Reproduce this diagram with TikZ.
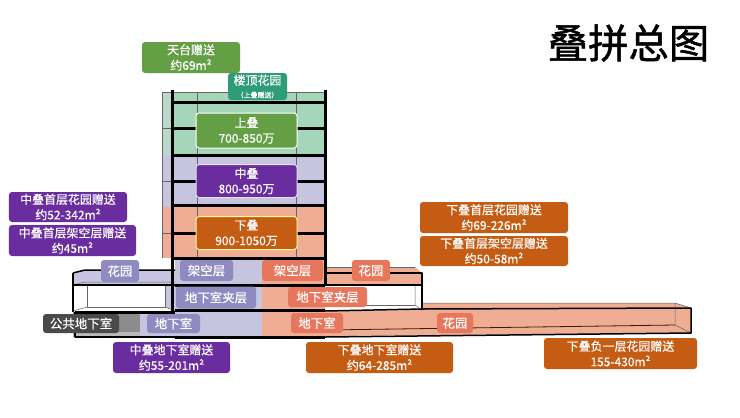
\documentclass[tikz,border=0pt]{standalone}
\usepackage{fontspec}
\setmainfont[FakeBold=0.4]{Noto Sans CJK SC}
\newfontfamily\titlefont[FakeBold=1.2]{Noto Sans CJK SC}
\definecolor{greenlight}{HTML}{A6D6BA}
\definecolor{greenside}{HTML}{B9D9CC}
\definecolor{greentag}{HTML}{649F45}
\definecolor{tealtag}{HTML}{2E9C78}
\definecolor{purplelight}{HTML}{C6C4DF}
\definecolor{purpletag}{HTML}{6A2D9F}
\definecolor{purplesoft}{HTML}{8F8BC1}
\definecolor{orangelight}{HTML}{EFAD93}
\definecolor{orangetag}{HTML}{C55C14}
\definecolor{orangesoft}{HTML}{E7775C}
\definecolor{graytag}{HTML}{4A4A4A}
\definecolor{graymid}{HTML}{8C8C8C}
\tikzset{
  pricetag/.style={rounded corners=3bp,text=white,inner sep=0pt,align=center,font=\fontsize{12}{15.5}\selectfont},
  greenbox/.style={pricetag,fill=greentag},
  purplebox/.style={pricetag,fill=purpletag},
  orangebox/.style={pricetag,fill=orangetag},
  softpurple/.style={pricetag,fill=purplesoft,font=\fontsize{12.5}{15}\selectfont},
  softorange/.style={pricetag,fill=orangesoft,font=\fontsize{12.5}{15}\selectfont},
  floorline/.style={line width=3bp,black},
  thinline/.style={line width=0.5bp,black!60}
}
\begin{document}
\begin{tikzpicture}[line join=bevel,x=1bp,y=-1bp]
  \useasboundingbox (0,0) rectangle (740,417);
  \fill[white] (0,0) rectangle (740,417);
  % Zone: tower
  \fill[greenside] (162,92) rectangle (172,155);
  \fill[greenlight] (172,92) rectangle (325,155);
  \fill[purplelight] (162,155) rectangle (325,207);
  \fill[orangelight] (162,207) rectangle (325,258);
  \fill[purplelight] (175,258) rectangle (262,285);
  \fill[orangelight] (262,258) rectangle (325,285);
  % Zone: basement storeys
  \fill[purplelight] (175,285) rectangle (262,310);
  \fill[orangelight] (262,285) rectangle (325,310);
  \fill[purplelight] (140,312) rectangle (262,337);
  \fill[graymid] (73,312) rectangle (140,332);
  \fill[graymid!60] (73,332) -- (140,332) -- (140,337) -- (73,337) -- cycle;
  \fill[orangelight] (262,312) -- (422,310) -- (422,303) -- (675,303) -- (691,308) -- (691,333) -- (325,336) -- (262,337) -- cycle;
  % Zone: side gardens
  \fill[purplelight] (73,273) -- (85,270) -- (175,270) -- (175,285) -- (73,285) -- cycle;
  \fill[white] (73,286) rectangle (175,311);
  \fill[purplelight] (165,286) -- (175,286) -- (175,311) -- (165,307) -- cycle;
  \fill[orangelight] (325,267) -- (415,267) -- (422,273) -- (422,285) -- (325,285) -- cycle;
  \draw[thinline] (87,286) -- (87,307) -- (165,307) -- (165,286);
  \draw[thinline] (73,311) -- (87,307) (175,311) -- (165,307);
  \draw[thinline] (73,285) -- (85,282) -- (175,282);
  \draw[thinline] (415,285) -- (415,305) -- (422,310);
  \draw[thinline] (325,305) -- (415,305);
  \draw[thinline] (325,267) -- (415,267);
  % Edge: thin grid of tower
  \draw[thinline] (162,92) -- (325,92);
  \draw[thinline] (162,92) -- (162,258);
  \draw[thinline] (197,92) -- (197,258);
  \draw[thinline] (296,92) -- (296,258);
  \draw[thinline] (162,128) -- (172,128) (162,181) -- (172,181) (162,233) -- (172,233);
  % Edge: basement garden
  \draw[thinline] (675,303) -- (675,325) -- (691,333);
  \draw[thinline] (422,303) -- (675,303) -- (691,308);
  \draw[line width=0.8bp,black!70!orangetag] (325,330) -- (675,325);
  % Edge: floors of tower
  \foreach \ypos in {102,128,155,181,205,233,258}
    \draw[floorline] (172,\ypos) -- (325,\ypos);
  \draw[floorline] (172,90) -- (172,312);
  \draw[floorline] (325,90) -- (325,285);
  \draw[floorline] (175,285) -- (325,285);
  \draw[floorline] (175,310) -- (325,310);
  \draw[floorline] (75,312) -- (175,312);
  \draw[floorline] (175,337) -- (325,337);
  % Edge: outline of lower storeys
  \draw[line width=1.5bp] (73,273) -- (85,270) -- (175,270);
  \draw[line width=1.5bp] (73,285) -- (175,285);
  \draw[line width=1.5bp] (73,273) -- (73,312);
  \draw[line width=1.5bp] (75,312) -- (75,337) -- (175,337);
  \draw[line width=1.5bp] (325,273) -- (422,273) -- (422,310);
  \draw[line width=1.5bp] (325,285) -- (422,285);
  \draw[line width=1.5bp] (325,311) -- (422,309) -- (691,308) -- (691,333) -- (325,337);
  % Node: title
  \node (title) at (628.5,43) {\titlefont\fontsize{40.5}{41}\selectfont 叠拼总图};
  % Node: tower tags
  \node[greenbox,minimum width=98bp,minimum height=31bp] (roof) at (191,57.5) {天台赠送\\约69m²};
  \node[pricetag,fill=tealtag,minimum width=59bp,minimum height=27bp,font=\fontsize{12}{13}\selectfont] (roofgarden) at (257.5,86.5) {楼顶花园\\{\fontsize{7}{9}\selectfont （上叠赠送）}};
  \node[greenbox,draw=white,line width=1bp,minimum width=101bp,minimum height=35bp] (upper) at (246.5,130.5) {上叠\\700-850万};
  \node[purplebox,draw=purplelight!50,line width=1bp,minimum width=101bp,minimum height=33bp] (middle) at (246.5,181) {中叠\\800-950万};
  \node[orangebox,draw=yellow!40,line width=1bp,minimum width=101bp,minimum height=33bp] (lower) at (246.5,233) {下叠\\900-1050万};
  % Node: left tags
  \node[purplebox,minimum width=118bp,minimum height=30bp] (midgarden) at (68,207) {中叠首层花园赠送\\约52-342m²};
  \node[purplebox,minimum width=127bp,minimum height=31bp] (midstilt) at (72.5,240.5) {中叠首层架空层赠送\\约45m²};
  % Node: right tags
  \node[orangebox,minimum width=148bp,minimum height=31bp] (lowgarden) at (494,217.5) {下叠首层花园赠送\\约69-226m²};
  \node[orangebox,minimum width=148bp,minimum height=30bp] (lowstilt) at (494,251) {下叠首层架空层赠送\\约50-58m²};
  % Node: floor tags
  \node[softpurple,minimum width=38bp,minimum height=22bp] (gardena) at (120,271) {花园};
  \node[softpurple,minimum width=53bp,minimum height=21bp] (stilta) at (206.5,270.5) {架空层};
  \node[softorange,minimum width=61bp,minimum height=21bp] (stiltb) at (292.5,270.5) {架空层};
  \node[softorange,minimum width=38bp,minimum height=21bp] (gardenb) at (371,270.5) {花园};
  \node[softpurple,minimum width=80bp,minimum height=22bp] (mezza) at (216,297.5) {地下室夹层};
  \node[softorange,minimum width=79bp,minimum height=20bp] (mezzb) at (327.5,297) {地下室夹层};
  \node[pricetag,fill=graytag,minimum width=76bp,minimum height=19bp,font=\fontsize{12.5}{15}\selectfont] (public) at (81,323.5) {公共地下室};
  \node[softpurple,minimum width=53bp,minimum height=19bp] (basea) at (173.5,323.5) {地下室};
  \node[softorange,minimum width=52bp,minimum height=20bp] (baseb) at (317,323) {地下室};
  \node[softorange,minimum width=36bp,minimum height=20bp] (gardenc) at (455,323) {花园};
  % Node: bottom tags
  \node[purplebox,minimum width=117bp,minimum height=31bp] (midbase) at (171.5,357.5) {中叠地下室赠送\\约55-201m²};
  \node[orangebox,minimum width=147bp,minimum height=31bp] (lowbase) at (379.5,357.5) {下叠地下室赠送\\约64-285m²};
  \node[orangebox,minimum width=153bp,minimum height=31bp] (lowyard) at (620.5,353.5) {下叠负一层花园赠送\\155-430m²};
\end{tikzpicture}
\end{document}
